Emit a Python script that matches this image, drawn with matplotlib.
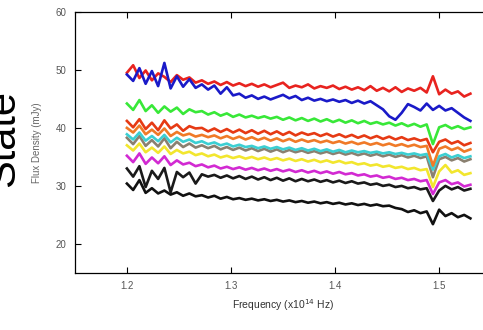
import numpy as np
import matplotlib
matplotlib.use("Agg")
import matplotlib.pyplot as plt

plt.rcParams['font.family'] = ['Liberation Sans', 'DejaVu Sans']

# frequency grid, units of 1e14 Hz
freq = np.linspace(1.200, 1.530, 56)

red = [49.5, 50.8, 48.6, 49.9, 48.2, 49.4, 48.8, 47.9, 49.1, 48.3, 48.7, 47.8,
       48.2, 47.6, 48.0, 47.4, 47.9, 47.3, 47.7, 47.2, 47.6, 47.1, 47.5, 47.0,
       47.4, 47.8, 46.9, 47.3, 47.0, 47.5, 46.8, 47.2, 46.9, 47.3, 46.7, 47.1,
       46.6, 47.0, 46.5, 47.2, 46.4, 46.9, 46.3, 47.0, 46.2, 46.8, 46.4, 46.9,
       46.1, 48.9, 45.8, 46.6, 45.9, 46.3, 45.4, 45.9]
blue = [49.2, 48.1, 50.3, 47.6, 49.8, 47.2, 51.2, 46.8, 48.9, 47.1, 48.4, 46.9,
        47.5, 46.6, 47.3, 45.9, 47.0, 45.6, 45.9, 45.2, 45.6, 45.0, 45.4, 44.9,
        45.3, 45.7, 45.1, 45.5, 44.8, 45.2, 44.7, 45.0, 44.6, 44.9, 44.5, 44.8,
        44.3, 44.7, 44.2, 44.6, 43.9, 43.2, 42.0, 41.4, 42.6, 44.1, 43.6, 43.0,
        44.2, 43.1, 43.8, 43.0, 43.4, 42.6, 41.8, 41.2]
green = [44.2, 43.1, 44.8, 42.9, 43.9, 42.6, 43.7, 42.8, 43.5, 42.4, 43.2, 42.7,
         42.9, 42.3, 42.7, 42.1, 42.5, 41.9, 42.3, 41.8, 42.1, 41.7, 42.0, 41.6,
         41.9, 41.4, 41.8, 41.3, 41.7, 41.2, 41.6, 41.1, 41.5, 41.0, 41.4, 40.9,
         41.3, 40.8, 41.2, 40.7, 41.0, 40.6, 40.9, 40.4, 40.8, 40.3, 40.7, 40.2,
         40.6, 37.2, 40.1, 40.5, 39.9, 40.3, 39.8, 40.1]
red2 = [41.2, 40.1, 41.5, 39.8, 40.9, 39.6, 41.3, 39.9, 40.6, 39.5, 40.3, 39.9,
        40.0, 39.4, 39.9, 39.3, 39.8, 39.2, 39.7, 39.1, 39.6, 39.0, 39.5, 38.9,
        39.4, 38.8, 39.3, 38.7, 39.2, 38.8, 39.1, 38.6, 39.0, 38.5, 38.9, 38.4,
        38.8, 38.3, 38.7, 38.2, 38.6, 38.1, 38.5, 38.0, 38.4, 37.9, 38.2, 37.8,
        38.1, 35.8, 37.6, 38.0, 37.3, 37.7, 37.0, 37.4]
orange = [40.0, 39.2, 40.4, 38.9, 39.7, 38.8, 39.9, 38.6, 39.3, 38.7, 39.0, 38.5,
          38.8, 38.4, 38.7, 38.2, 38.6, 38.1, 38.5, 38.0, 38.4, 37.9, 38.3, 37.8,
          38.2, 37.7, 38.1, 37.6, 38.0, 37.6, 37.9, 37.5, 37.8, 37.4, 37.7, 37.3,
          37.6, 37.2, 37.5, 37.1, 37.4, 37.0, 37.3, 36.9, 37.2, 36.8, 37.1, 36.7,
          36.9, 33.5, 36.4, 36.8, 36.2, 36.6, 35.9, 36.3]
cyan = [38.9, 38.0, 39.2, 37.8, 38.6, 37.7, 38.8, 37.5, 38.3, 37.6, 38.0, 37.4,
        37.7, 37.2, 37.5, 37.0, 37.3, 36.8, 37.1, 36.7, 36.9, 36.5, 36.8, 36.4,
        36.7, 36.3, 36.6, 36.2, 36.5, 36.1, 36.4, 36.0, 36.3, 35.9, 36.2, 35.8,
        36.1, 35.8, 36.0, 35.7, 35.9, 35.6, 35.8, 35.5, 35.7, 35.4, 35.6, 35.3,
        35.5, 32.8, 35.1, 35.5, 34.9, 35.3, 34.8, 35.1]
gray = [38.3, 37.2, 38.6, 36.9, 37.9, 36.8, 38.2, 36.5, 37.6, 36.7, 37.3, 36.6,
        37.0, 36.5, 36.9, 36.3, 36.7, 36.2, 36.6, 36.1, 36.5, 36.0, 36.4, 35.9,
        36.3, 35.8, 36.2, 35.8, 36.1, 35.7, 36.0, 35.6, 35.9, 35.5, 35.8, 35.4,
        35.7, 35.3, 35.6, 35.2, 35.5, 35.1, 35.4, 35.0, 35.3, 34.9, 35.2, 34.8,
        35.1, 31.5, 34.6, 35.0, 34.4, 34.8, 34.2, 34.6]
yellow = [37.0, 36.1, 37.3, 35.8, 36.6, 35.7, 36.8, 35.5, 36.2, 35.6, 35.9, 35.3,
          35.6, 35.1, 35.4, 34.9, 35.2, 34.8, 35.1, 34.7, 35.0, 34.6, 34.9, 34.5,
          34.8, 34.4, 34.7, 34.3, 34.6, 34.2, 34.5, 34.1, 34.4, 34.0, 34.3, 33.9,
          34.1, 33.7, 33.9, 33.5, 33.7, 33.3, 33.5, 33.1, 33.3, 32.9, 33.1, 32.7,
          32.9, 29.8, 32.5, 33.6, 32.3, 32.7, 31.9, 32.2]
magenta = [35.2, 34.1, 35.6, 33.8, 34.9, 33.9, 35.1, 33.6, 34.4, 33.7, 34.0, 33.4,
           33.7, 33.2, 33.5, 33.0, 33.3, 32.9, 33.2, 32.8, 33.1, 32.7, 33.0, 32.6,
           32.9, 32.5, 32.8, 32.4, 32.7, 32.3, 32.6, 32.2, 32.5, 32.1, 32.4, 32.0,
           32.2, 31.8, 32.0, 31.6, 31.8, 31.4, 31.6, 31.2, 31.4, 31.0, 31.2, 30.8,
           31.0, 28.6, 30.6, 31.0, 30.3, 30.6, 29.9, 30.2]
black2 = [33.0, 31.6, 33.4, 29.8, 32.6, 31.2, 33.1, 28.9, 32.4, 31.5, 32.3, 30.4,
          32.0, 31.6, 31.9, 31.4, 31.8, 31.3, 31.7, 31.2, 31.6, 31.1, 31.5, 31.0,
          31.4, 30.9, 31.3, 30.8, 31.2, 30.8, 31.1, 30.7, 31.0, 30.6, 30.9, 30.5,
          30.8, 30.4, 30.6, 30.2, 30.4, 30.0, 30.2, 29.8, 30.0, 29.6, 29.8, 29.4,
          29.6, 27.4, 29.2, 30.0, 29.4, 29.8, 29.2, 29.5]
black = [30.4, 29.3, 31.0, 28.8, 29.6, 28.7, 29.2, 28.5, 28.9, 28.3, 28.7, 28.2,
         28.4, 28.0, 28.3, 27.8, 28.1, 27.7, 27.9, 27.6, 27.8, 27.5, 27.7, 27.4,
         27.6, 27.3, 27.5, 27.2, 27.4, 27.1, 27.3, 27.0, 27.2, 26.9, 27.1, 26.8,
         27.0, 26.7, 26.9, 26.6, 26.8, 26.5, 26.6, 26.2, 26.0, 25.5, 25.8, 25.3,
         25.6, 23.4, 25.9, 24.8, 25.3, 24.6, 25.0, 24.4]

spectra = [
    (black, '#111111'),
    (black2, '#1a1a1a'),
    (magenta, '#d22ad2'),
    (yellow, '#f2e62e'),
    (gray, '#8a8070'),
    (cyan, '#3ccfd2'),
    (orange, '#f07a28'),
    (red2, '#e63a14'),
    (green, '#38e838'),
    (red, '#e8231f'),
    (blue, '#1a1ac8'),
]

fig = plt.figure(figsize=(4.83, 3.30), dpi=100)
# the frame runs past the right edge of the figure
ax = fig.add_axes([0.155, 0.173, 0.862, 0.791])

for flux, col in spectra:
    ax.plot(freq, flux, color=col, lw=1.9, solid_joinstyle='round')

ax.set_xlim(1.15, 1.55)
ax.set_ylim(15, 60)
ax.set_xticks([1.2, 1.3, 1.4, 1.5])
ax.set_yticks([20, 30, 40, 50, 60])
ax.tick_params(direction='in', length=4, width=0.8, top=True, right=True,
               labelsize=7, labelcolor='#555555', pad=6)
for sp in ax.spines.values():
    sp.set_linewidth(0.9)

ax.set_xlabel('Frequency (x10$^{14}$ Hz)', fontsize=7.5, color='#333333', labelpad=4)
ax.set_ylabel('Flux Density (mJy)', fontsize=7, color='#666666', labelpad=10)

fig.text(0.006, 0.58, 'State', rotation=90, fontsize=30, color='black',
         ha='center', va='center')

fig.savefig('out.png', dpi=100)
